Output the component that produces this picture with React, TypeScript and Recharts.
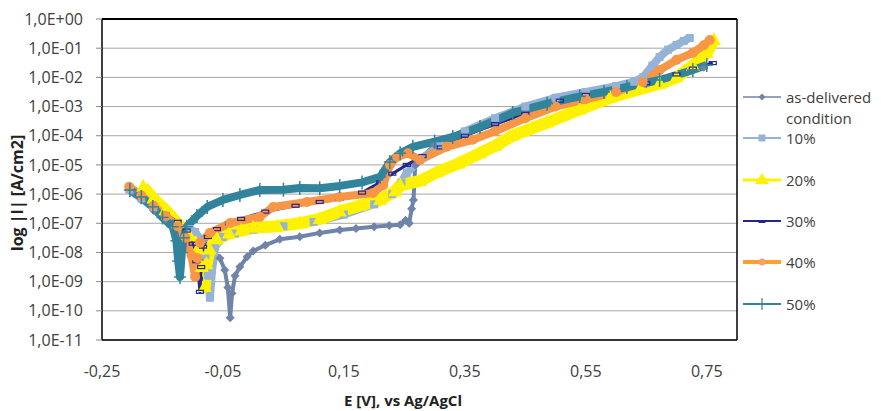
import { LineChart, Line, XAxis, YAxis, CartesianGrid, Label } from 'recharts';

// potential E [V] vs Ag/AgCl and log10 of current density |I| [A/cm2]
const E_AD = [-0.2, -0.185, -0.165, -0.145, -0.125, -0.105, -0.085, -0.068, -0.055, -0.047, -0.042, -0.038, -0.035, -0.03, -0.022, -0.01, 0.0, 0.02, 0.044, 0.077, 0.11, 0.143, 0.17, 0.2, 0.225, 0.243, 0.252, 0.258, 0.262, 0.265, 0.268, 0.3, 0.35, 0.4, 0.45, 0.5, 0.55, 0.6, 0.65, 0.7, 0.745];
const LOG_AD = [-5.9, -6.2, -6.55, -6.85, -7.1, -7.35, -7.6, -7.9, -8.2, -8.6, -9.2, -10.24, -9.4, -8.8, -8.49, -8.15, -7.95, -7.75, -7.55, -7.46, -7.33, -7.23, -7.18, -7.12, -7.08, -7.05, -6.9, -7.0, -6.5, -6.2, -5.0, -4.3, -3.95, -3.6, -3.2, -2.9, -2.7, -2.45, -2.22, -1.95, -1.65];

const E_10 = [-0.205, -0.185, -0.165, -0.145, -0.125, -0.105, -0.096, -0.086, -0.079, -0.075, -0.0715, -0.068, -0.063, -0.05, -0.03, 0.0, 0.05, 0.1, 0.15, 0.2, 0.23, 0.245, 0.254, 0.28, 0.31, 0.35, 0.4, 0.45, 0.5, 0.55, 0.6, 0.63, 0.645, 0.66, 0.672, 0.686, 0.7, 0.712, 0.722];
const LOG_10 = [-5.85, -6.15, -6.45, -6.75, -7.0, -7.2, -7.3, -7.6, -8.1, -8.8, -9.55, -8.6, -7.8, -7.47, -7.35, -7.22, -7.1, -6.95, -6.7, -6.35, -6.0, -5.6, -5.27, -4.75, -4.35, -3.85, -3.4, -3.0, -2.7, -2.5, -2.3, -2.15, -1.99, -1.6, -1.3, -1.05, -0.89, -0.75, -0.65];

const E_20 = [-0.182, -0.165, -0.145, -0.125, -0.105, -0.092, -0.085, -0.08, -0.077, -0.072, -0.06, -0.04, -0.02, 0.0, 0.04, 0.077, 0.11, 0.143, 0.176, 0.21, 0.235, 0.243, 0.276, 0.304, 0.34, 0.375, 0.4, 0.429, 0.486, 0.54, 0.59, 0.64, 0.672, 0.7, 0.727, 0.75, 0.762];
const LOG_20 = [-5.75, -6.15, -6.55, -7.0, -7.45, -7.9, -8.5, -9.18, -8.4, -7.9, -7.55, -7.35, -7.25, -7.15, -7.1, -7.0, -6.85, -6.6, -6.4, -6.2, -5.9, -5.7, -5.55, -5.25, -4.95, -4.6, -4.35, -4.0, -3.55, -3.1, -2.7, -2.4, -2.22, -2.0, -1.6, -1.16, -0.72];

const E_30 = [-0.205, -0.185, -0.165, -0.145, -0.125, -0.11, -0.1, -0.094, -0.09, -0.088, -0.086, -0.083, -0.075, -0.06, -0.04, -0.02, 0.02, 0.07, 0.11, 0.143, 0.18, 0.21, 0.23, 0.254, 0.28, 0.31, 0.35, 0.4, 0.45, 0.507, 0.55, 0.6, 0.65, 0.7, 0.727, 0.76];
const LOG_30 = [-5.8, -6.1, -6.4, -6.7, -6.95, -7.25, -7.7, -8.3, -8.9, -9.35, -8.5, -7.8, -7.47, -7.2, -7.0, -6.85, -6.6, -6.4, -6.27, -6.15, -5.95, -5.6, -5.3, -5.0, -4.7, -4.4, -4.0, -3.6, -3.25, -2.8, -2.6, -2.45, -2.2, -1.9, -1.7, -1.51];

const E_40 = [-0.205, -0.185, -0.165, -0.145, -0.125, -0.112, -0.102, -0.096, -0.092, -0.088, -0.0715, -0.038, 0.011, 0.033, 0.089, 0.143, 0.198, 0.215, 0.226, 0.238, 0.256, 0.276, 0.32, 0.363, 0.4, 0.45, 0.5, 0.55, 0.6, 0.644, 0.672, 0.7, 0.727, 0.745, 0.755];
const LOG_40 = [-5.75, -6.05, -6.4, -6.75, -7.1, -7.5, -8.1, -8.84, -8.2, -7.67, -7.33, -6.99, -6.78, -6.44, -6.27, -6.1, -5.96, -5.7, -5.0, -4.73, -4.6, -4.83, -4.38, -4.14, -3.85, -3.4, -3.0, -2.75, -2.5, -2.16, -1.75, -1.4, -1.16, -0.9, -0.72];

const E_50 = [-0.204, -0.185, -0.166, -0.15, -0.133, -0.127, -0.124, -0.121, -0.118, -0.115, -0.11, -0.093, -0.076, -0.05, -0.022, 0.011, 0.05, 0.077, 0.11, 0.143, 0.18, 0.21, 0.226, 0.243, 0.264, 0.3, 0.33, 0.375, 0.429, 0.486, 0.54, 0.58, 0.618, 0.672, 0.727, 0.75];
const LOG_50 = [-5.86, -6.1, -6.44, -6.8, -7.12, -7.6, -8.3, -8.84, -8.0, -7.5, -7.12, -6.75, -6.44, -6.2, -6.03, -5.86, -5.85, -5.79, -5.8, -5.72, -5.6, -5.41, -4.9, -4.6, -4.38, -4.2, -4.04, -3.7, -3.22, -2.9, -2.65, -2.5, -2.33, -2.09, -1.75, -1.58];

const X_TICKS = [-0.25, -0.05, 0.15, 0.35, 0.55, 0.75];
const Y_TICKS = [1e-11, 1e-10, 1e-9, 1e-8, 1e-7, 1e-6, 1e-5, 1e-4, 1e-3, 1e-2, 1e-1, 1];

const FONT = '"Open Sans", sans-serif';
const TEXT = '#404040';

const toRows = (e: number[], logI: number[]) => e.map((v, k) => ({ e: v, i: Math.pow(10, logI[k]) }));

const SERIES = [
  { name: 'as-delivered condition', rows: toRows(E_AD, LOG_AD), color: '#7083A8', width: 4, marker: 'diamond' },
  { name: '10%', rows: toRows(E_10, LOG_10), color: '#95B3D7', width: 8, marker: 'square' },
  { name: '20%', rows: toRows(E_20, LOG_20), color: '#FFF200', width: 12, marker: 'triangle' },
  { name: '30%', rows: toRows(E_30, LOG_30), color: '#26268F', width: 3, marker: 'dash' },
  { name: '40%', rows: toRows(E_40, LOG_40), color: '#F79646', width: 8, marker: 'circle' },
  { name: '50%', rows: toRows(E_50, LOG_50), color: '#31849B', width: 8, marker: 'plus' },
];

function Marker({ kind, x, y, color }: { kind: string; x: number; y: number; color: string }) {
  switch (kind) {
    case 'diamond':
      return <polygon points={`${x},${y - 4.5} ${x + 4.5},${y} ${x},${y + 4.5} ${x - 4.5},${y}`} fill={color} />;
    case 'square':
      return <rect x={x - 4} y={y - 4} width={8} height={8} fill={color} />;
    case 'triangle':
      return <polygon points={`${x},${y - 8} ${x + 7},${y + 5} ${x - 7},${y + 5}`} fill={color} />;
    case 'dash':
      return <rect x={x - 3.5} y={y - 1.5} width={7} height={3} fill="none" stroke={color} strokeWidth={1.2} />;
    case 'circle':
      return <circle cx={x} cy={y} r={5} fill={color} />;
    default:
      return (
        <g stroke={color} strokeWidth={1.5}>
          <line x1={x - 6} y1={y} x2={x + 6} y2={y} />
          <line x1={x} y1={y - 7} x2={x} y2={y + 7} />
        </g>
      );
  }
}

const makeDot = (kind: string, color: string) => (p: any) => {
  if (p.cx == null || p.cy == null) return <g key={`d-${p.index}`} />;
  return (
    <g key={`d-${p.index}`}>
      <Marker kind={kind} x={p.cx} y={p.cy} color={color} />
    </g>
  );
};

const fmtY = (v: number) => {
  const ex = Math.round(Math.log10(v));
  return `1,0E${ex < 0 ? '-' : '+'}${String(Math.abs(ex)).padStart(2, '0')}`;
};
const fmtX = (v: number) => v.toFixed(2).replace('.', ',');

function LegendMarker({ kind, x, y, color }: { kind: string; x: number; y: number; color: string }) {
  switch (kind) {
    case 'diamond':
      return <polygon points={`${x},${y - 3.5} ${x + 3.5},${y} ${x},${y + 3.5} ${x - 3.5},${y}`} fill={color} />;
    case 'square':
      return <rect x={x - 3.5} y={y - 3.5} width={7} height={7} fill={color} />;
    case 'triangle':
      return <polygon points={`${x},${y - 7} ${x + 7},${y + 4} ${x - 7},${y + 4}`} fill={color} />;
    case 'dash':
      return <rect x={x - 3.5} y={y - 1} width={7} height={3} fill={color} />;
    case 'circle':
      return <circle cx={x} cy={y} r={3.5} fill={color} />;
    default:
      return <line x1={x} y1={y - 6} x2={x} y2={y + 6} stroke={color} strokeWidth={1.2} />;
  }
}

function ChartLegend() {
  const rows = [
    { s: SERIES[0], y: 97, lw: 1.5 },
    { s: SERIES[1], y: 138, lw: 2 },
    { s: SERIES[2], y: 180, lw: 3 },
    { s: SERIES[3], y: 221, lw: 2 },
    { s: SERIES[4], y: 262, lw: 4 },
    { s: SERIES[5], y: 304, lw: 2 },
  ];
  return (
    <svg width={881} height={411} style={{ position: 'absolute', left: 0, top: 0, pointerEvents: 'none' }}>
      {rows.map(({ s, y, lw }) => (
        <g key={s.name}>
          <line x1={743} y1={y} x2={781} y2={y} stroke={s.name === '40%' ? '#FFA030' : s.color} strokeWidth={lw} />
          <LegendMarker kind={s.marker} x={762} y={y} color={s.name === '40%' ? '#F4A070' : s.color} />
          {s.name === 'as-delivered condition' ? (
            <text x={786} y={y} fontFamily={FONT} fontSize={15} fill={TEXT} dominantBaseline="central">
              <tspan x={786}>as-delivered</tspan>
              <tspan x={786} dy={21}>condition</tspan>
            </text>
          ) : (
            <text x={786} y={y} fontFamily={FONT} fontSize={15} fill={TEXT} dominantBaseline="central">
              {s.name}
            </text>
          )}
        </g>
      ))}
    </svg>
  );
}

export default function App() {
  return (
    <div style={{ position: 'absolute', left: 0, top: 0, width: 881, height: 411, background: '#fff' }}>
      <LineChart width={881} height={411} margin={{ top: 18, right: 140, bottom: 31, left: 0 }}>
        <CartesianGrid vertical={false} stroke="#A6A6A6" />
        <XAxis
          dataKey="e"
          type="number"
          domain={[-0.25, 0.8]}
          ticks={X_TICKS}
          allowDataOverflow
          tickFormatter={fmtX}
          tickLine={false}
          tickSize={0}
          tickMargin={26}
          height={40}
          axisLine={{ stroke: '#000', strokeWidth: 1.5 }}
          tick={{ fontFamily: FONT, fontSize: 16, fill: TEXT }}
        >
          <Label
            content={() => (
              <text x={403} y={400} textAnchor="middle" dominantBaseline="central" fontFamily={FONT} fontSize={15} fontWeight="bold" fill="#222">
                E [V], vs Ag/AgCl
              </text>
            )}
          />
        </XAxis>
        <XAxis
          xAxisId="top"
          orientation="top"
          type="number"
          domain={[-0.25, 0.8]}
          ticks={X_TICKS}
          allowDataOverflow
          tick={false}
          tickSize={6}
          height={1}
          tickLine={{ stroke: '#888' }}
          axisLine={{ stroke: '#000', strokeWidth: 2 }}
        />
        <YAxis
          type="number"
          scale="log"
          domain={[1e-11, 1]}
          ticks={Y_TICKS}
          allowDataOverflow
          tickFormatter={fmtY}
          width={102}
          tickSize={6}
          tickMargin={13}
          tickLine={{ stroke: '#888' }}
          axisLine={{ stroke: '#000', strokeWidth: 1.5 }}
          tick={{ fontFamily: FONT, fontSize: 16, fill: TEXT }}
        >
          <Label
            content={() => (
              <text x={17} y={193} transform="rotate(-90 17 193)" textAnchor="middle" dominantBaseline="central" fontFamily={FONT} fontSize={16} fontWeight="bold" fill="#222">
                log |I| [A/cm2]
              </text>
            )}
          />
        </YAxis>
        <YAxis
          yAxisId="r"
          orientation="right"
          type="number"
          scale="log"
          domain={[1e-11, 1]}
          ticks={Y_TICKS}
          allowDataOverflow
          tick={false}
          tickSize={4}
          width={4}
          tickLine={{ stroke: '#888' }}
          axisLine={{ stroke: '#000', strokeWidth: 1.5 }}
        />
        {SERIES.map((s) => (
          <Line
            key={s.name}
            name={s.name}
            data={s.rows}
            dataKey="i"
            type="linear"
            stroke={s.color}
            strokeWidth={s.width}
            strokeLinejoin="round"
            dot={makeDot(s.marker, s.color)}
            activeDot={false}
            isAnimationActive={false}
          />
        ))}
      </LineChart>
      <ChartLegend />
    </div>
  );
}
